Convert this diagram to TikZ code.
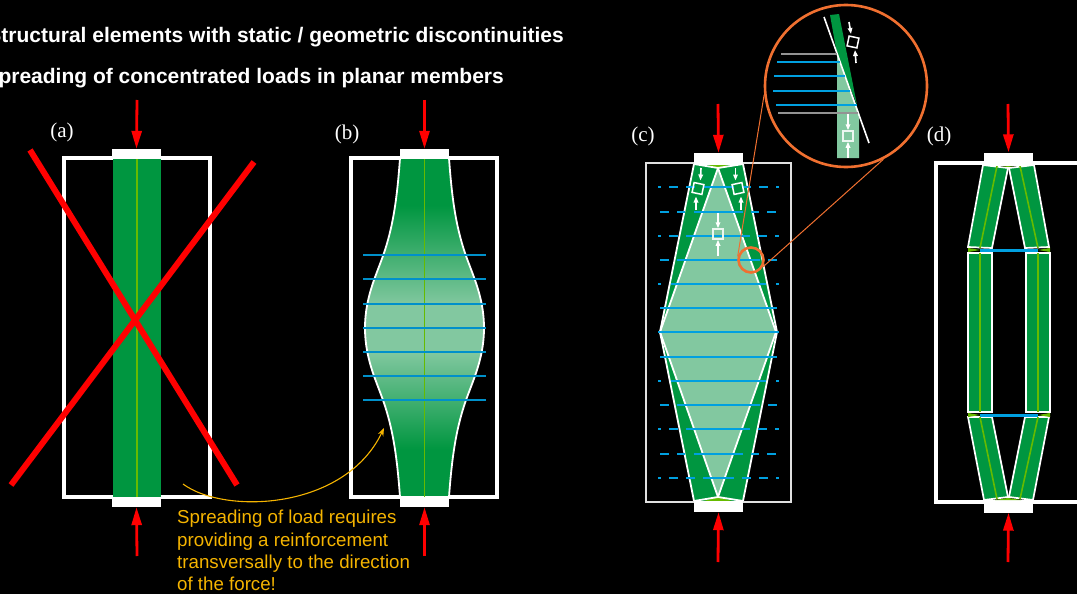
\documentclass[tikz,border=0pt]{standalone}
\usepackage{fontspec}
\setmainfont{Liberation Sans}
\newfontfamily\serifcap{Liberation Serif}
\usetikzlibrary{arrows.meta,calc}
\definecolor{sgreen}{HTML}{009640}
\definecolor{lgreen}{HTML}{82C8A0}
\definecolor{ygreen}{HTML}{66BB00}
\definecolor{tie}{HTML}{00A0E0}
\definecolor{oran}{HTML}{F07030}
\definecolor{gold}{HTML}{F5B400}
\pgfdeclareverticalshading{bulbshade}{100bp}{
 color(0bp)=(sgreen); color(32bp)=(sgreen); color(46.5bp)=(lgreen);
 color(53.3bp)=(lgreen); color(68bp)=(sgreen); color(100bp)=(sgreen)}
\tikzset{
 x=1pt,y=-1pt,
 frameA/.style={draw=white,line width=3.4pt},
 frameC/.style={draw=white!88!black,line width=2pt},
 capbox/.style={fill=white,inner sep=0pt,minimum width=49pt,minimum height=#1,anchor=center},
 force/.style={red,line width=2.8pt,-{Triangle[length=18pt,width=10pt]}},
 cross/.style={red,line width=6pt},
 edge/.style={white,line width=1.8pt,line join=miter},
 stress/.style={white,line width=1.6pt,-{Triangle[length=6pt,width=4.5pt]},shorten >=0pt},
 elem/.style={draw=white,line width=1.5pt,inner sep=0pt,minimum size=10pt},
 tieline/.style={tie,line width=2.4pt},
 axisline/.style={ygreen,line width=1.6pt},
 caplabel/.style={white,font=\serifcap\fontsize{21}{23}\selectfont},
 headline/.style={white,anchor=east,inner sep=0pt,font=\fontsize{21}{24}\selectfont\bfseries},
 lens/.style={draw=oran,line width=2.6pt,circle,inner sep=0pt},
 leader/.style={oran,line width=1pt},
}
\begin{document}
\begin{tikzpicture}
\useasboundingbox (0,0) rectangle (1077,594);
\clip (0,0) rectangle (1077,594);
\fill[black] (0,0) rectangle (1077,594);

\node[headline] (t1) at (564,37) {Structural elements with static / geometric discontinuities};
\node[headline] (t2) at (504,78) {Spreading of concentrated loads in planar members};

% ---------- (a)
\node[caplabel] (la) at (62,132) {(a)};
\draw[frameA] (64,158) rectangle (210,497);
\fill[sgreen] (113,158) rectangle (161,497);
\draw[axisline] (137,158) -- (137,497);
\node[capbox=10pt] (aT) at (136.5,154) {};
\node[capbox=10pt] (aB) at (136.5,502) {};
\coordinate (aTs) at (137,100); \coordinate (aBs) at (137,556);
\draw[force] (aTs) -- (aT.north);
\draw[force] (aBs) -- (aB.south);
\draw[cross] (30,150) -- (237,485);
\draw[cross] (254,162) -- (11,485);

% ---------- (b)
\node[caplabel] (lb) at (347,134) {(b)};
\draw[frameA] (351,158) rectangle (497,497);
\path[shading=bulbshade,draw=white,line width=1.8pt]
 (400,158) .. controls (397,200) and (393,225) .. (385,250)
 .. controls (378,272) and (365,295) .. (365,328)
 .. controls (365,361) and (378,384) .. (385,406)
 .. controls (393,431) and (397,456) .. (400,497)
 -- (449,497)
 .. controls (452,456) and (456,431) .. (464,406)
 .. controls (471,384) and (484,361) .. (484,328)
 .. controls (484,295) and (471,272) .. (464,250)
 .. controls (456,225) and (452,200) .. (449,158) -- cycle;
\draw[axisline] (424.5,158) -- (424.5,497);
\foreach \yy in {255,279,304,328,352,376,400}
  \draw[tie!90!black,line width=2pt] (363,\yy) -- (486,\yy);
\node[capbox=10pt] (bT) at (424.5,154) {};
\node[capbox=10pt] (bB) at (424.5,502) {};
\coordinate (bTs) at (424.5,100); \coordinate (bBs) at (424.5,556);
\draw[force] (bTs) -- (bT.north);
\draw[force] (bBs) -- (bB.south);

% note
\coordinate (nS) at (183,484); \coordinate (nE) at (384,428);
\draw[gold,line width=1.1pt,-{Stealth[length=8pt,width=6pt]}] (nS) .. controls (225,515) and (345,510) .. (nE);
\node[gold,anchor=north west,align=left,inner sep=0pt,font=\fontsize{18.7}{22.4}\selectfont] (note) at (177,510)
 {Spreading of load requires\\providing a reinforcement\\transversally to the direction\\of the force!};

% ---------- (c)
\node[caplabel] (lc) at (643,136) {(c)};
\draw[frameC] (646,163) rectangle (791,502);
\fill[sgreen] (694,164) -- (743,164) -- (777,332) -- (743,501) -- (694,501) -- (660,332) -- cycle;
\fill[lgreen] (718,168) -- (776,332) -- (718,497) -- (660,332) -- cycle;
\draw[edge] (694,164) -- (660,332) -- (694,501);
\draw[edge] (743,164) -- (777,332) -- (743,501);
\draw[edge] (718,168) -- (776,332) -- (718,497) -- (660,332) -- cycle;
\fill[ygreen] (704,164) -- (718,168) -- (732,164) -- cycle;
\fill[ygreen] (704,501) -- (718,497) -- (732,501) -- cycle;
\draw[edge] (694,164) -- (718,168) -- (743,164);
\draw[edge] (694,501) -- (718,497) -- (743,501);
% ties of (c)
\foreach \yy in {187,478} \foreach \p/\q in {658/661,669/678,686/695,703/734,742/751,759/768,776/779}
  \draw[tieline] (\p,\yy) -- (\q,\yy);
\foreach \yy in {212,454} \foreach \p/\q in {660/669,677/685,694/743,751/759,767/776}
  \draw[tieline] (\p,\yy) -- (\q,\yy);
\foreach \yy in {236,429} \foreach \p/\q in {658/661,669/678,686/750,758/767,775/779}
  \draw[tieline] (\p,\yy) -- (\q,\yy);
\foreach \yy in {260,405} \foreach \p/\q in {660/669,677/760,768/777}
  \draw[tieline] (\p,\yy) -- (\q,\yy);
\foreach \yy in {284,381} \foreach \p/\q in {658/661,671/766,776/779}
  \draw[tieline] (\p,\yy) -- (\q,\yy);
\foreach \yy in {308,357} \draw[tieline] (660,\yy) -- (777,\yy);
\draw[tieline] (658,332) -- (779,332);
% stress elements of (c)
\node[elem,rotate=-12] (e1) at (698,188.5) {};
\node[elem,rotate=12] (e2) at (738,188.5) {};
\node[elem,white!85!lgreen] (e3) at (718,234) {};
\coordinate (e1a) at (701,168); \coordinate (e1b) at (696,210);
\coordinate (e2a) at (735.5,168); \coordinate (e2b) at (741,210);
\coordinate (e3a) at (718,213); \coordinate (e3b) at (718,256);
\draw[stress] (e1a) -- ($(e1)+(2.5,-8)$);
\draw[stress] (e1b) -- ($(e1)+(-2,8)$);
\draw[stress] (e2a) -- ($(e2)+(-2.5,-8)$);
\draw[stress] (e2b) -- ($(e2)+(3,8)$);
\draw[stress,line width=2pt] (e3a) -- (e3.north);
\draw[stress,line width=2pt] (e3b) -- (e3.south);
\node[capbox=12pt] (cT) at (718.5,159) {};
\node[capbox=11pt] (cB) at (718.5,506.5) {};
\coordinate (cTs) at (718,104); \coordinate (cBs) at (718,562);
\draw[force] (cTs) -- (cT.north);
\draw[force] (cBs) -- (cB.south);

% lens
\node[lens,minimum size=25pt] (sm) at (751,260) {};
\node[lens,minimum size=162pt] (big) at (846,86) {};
\draw[leader] (big.186) -- (sm.165);
\draw[leader] (big.-63) -- (sm.-30);
\fill[lgreen] (837,54) -- (837,158) -- (859,158) -- (859,113) -- cycle;
\fill[sgreen] (830,15) -- (839,14) -- (857,105) -- (837,54) -- cycle;
\draw[white,line width=1.6pt] (824,17) -- (869,143);
\draw[gray!85!white,line width=1.2pt] (781,54) -- (837,54);
\draw[gray!85!white,line width=1.2pt] (778,113) -- (858,113);
\draw[tieline] (777,62) -- (840,62);
\draw[tieline] (774,76) -- (845,76);
\draw[tieline] (773,91) -- (850,91);
\draw[tieline] (776,105) -- (857,105);
\node[elem,rotate=-12] (e4) at (853,42) {};
\node[elem,white!85!lgreen] (e5) at (848,136) {};
\coordinate (e4a) at (849,22); \coordinate (e4b) at (856,63);
\coordinate (e5a) at (848,114); \coordinate (e5b) at (848,158);
\draw[stress] (e4a) -- ($(e4)+(-2,-8)$);
\draw[stress] (e4b) -- ($(e4)+(2,8)$);
\draw[stress,line width=2pt] (e5a) -- (e5.north);
\draw[stress,line width=2pt] (e5b) -- (e5.south);

% ---------- (d)
\node[caplabel] (ld) at (939,136) {(d)};
\draw[frameA] (936,163) rectangle (1090,502);
\tikzset{strut/.style={fill=sgreen,draw=white,line width=1.7pt,line join=miter}}
\draw[strut] (983,165) -- (1008,168) -- (992,248) -- (968,247) -- cycle;
\draw[strut] (1034,165) -- (1009,168) -- (1025,248) -- (1049,247) -- cycle;
\draw[strut] (968,417) -- (992,417) -- (1008,497) -- (984,500) -- cycle;
\draw[strut] (1049,417) -- (1025,417) -- (1009,497) -- (1033,500) -- cycle;
\draw[strut] (968,253) rectangle (992,412);
\draw[strut] (1026,253) rectangle (1050,412);
\draw[axisline] (997,166) -- (980,248);
\draw[axisline] (1020,166) -- (1038,248);
\draw[axisline] (980,253) -- (980,412);
\draw[axisline] (1038,253) -- (1038,412);
\draw[axisline] (980,417) -- (997,499);
\draw[axisline] (1038,417) -- (1020,499);
\foreach \yy in {250,415} {
  \fill[ygreen] (968,\yy-2) -- (980,\yy) -- (968,\yy+2) -- cycle;
  \fill[ygreen] (1050,\yy-2) -- (1038,\yy) -- (1050,\yy+2) -- cycle;
  \draw[tie,line width=3pt] (980,\yy) -- (1038,\yy);
}
\fill[ygreen] (995,165) -- (1008,167) -- (1021,165) -- cycle;
\fill[ygreen] (995,500) -- (1008,498) -- (1021,500) -- cycle;
\node[capbox=13pt] (dT) at (1008.5,159) {};
\node[capbox=12pt] (dB) at (1008.5,506.5) {};
\coordinate (dTs) at (1008,104); \coordinate (dBs) at (1008,562);
\draw[force] (dTs) -- (dT.north);
\draw[force] (dBs) -- (dB.south);
\end{tikzpicture}
\end{document}
